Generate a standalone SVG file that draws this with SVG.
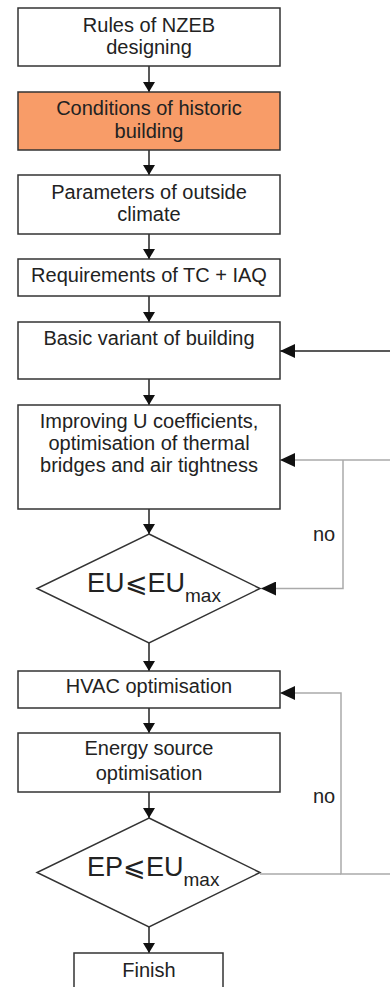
<svg xmlns="http://www.w3.org/2000/svg" width="390" height="987" viewBox="0 0 390 987">
<defs>
<style>
.box{fill:#fff;stroke:#333;stroke-width:1.5}
.hot{fill:#F89C68;stroke:#333;stroke-width:1.5}
.t{font-family:"Liberation Sans",Arial,sans-serif;font-size:20px;fill:#222;text-anchor:middle}
.big{font-family:"Liberation Sans",Arial,sans-serif;font-size:27px;fill:#222}
.sub{font-size:19px}
.no{font-family:"Liberation Sans",Arial,sans-serif;font-size:20px;fill:#222}
.ln{stroke:#222;stroke-width:1.5;fill:none}
.gl{stroke:#aaa;stroke-width:1.5;fill:none}
</style>
<marker id="ad" viewBox="0 0 10 12" refX="10" refY="6" markerWidth="10" markerHeight="12" markerUnits="userSpaceOnUse" orient="auto">
<path d="M0,0 L10,6 L0,12 Z" fill="#111"/>
</marker>
<marker id="as" viewBox="0 0 15 14" refX="15" refY="7" markerWidth="15" markerHeight="14" markerUnits="userSpaceOnUse" orient="auto">
<path d="M0,0 L15,7 L0,14 Z" fill="#111"/>
</marker>
</defs>
<rect width="390" height="987" fill="#fff"/>
<g id="connectors">
<line class="ln" x1="149" y1="66" x2="149" y2="92" marker-end="url(#ad)"/>
<line class="ln" x1="149" y1="150" x2="149" y2="175" marker-end="url(#ad)"/>
<line class="ln" x1="149" y1="234" x2="149" y2="259" marker-end="url(#ad)"/>
<line class="ln" x1="149" y1="296" x2="149" y2="322" marker-end="url(#ad)"/>
<line class="ln" x1="149" y1="379" x2="149" y2="405" marker-end="url(#ad)"/>
<line class="ln" x1="149" y1="509" x2="149" y2="534" marker-end="url(#ad)"/>
<line class="ln" x1="149" y1="643" x2="149" y2="671" marker-end="url(#ad)"/>
<line class="ln" x1="149" y1="708" x2="149" y2="733" marker-end="url(#ad)"/>
<line class="ln" x1="149" y1="792" x2="149" y2="818" marker-end="url(#ad)"/>
<line class="ln" x1="149" y1="927" x2="149" y2="953" marker-end="url(#ad)"/>
<line class="ln" x1="390" y1="351" x2="280" y2="351" stroke="#444" marker-end="url(#as)"/>
<line class="gl" x1="390" y1="460" x2="280" y2="460" marker-end="url(#as)"/>
<polyline class="gl" points="343,460 343,588.5 261,588.5" marker-end="url(#as)"/>
<polyline class="gl" points="390,874 341,874 341,693 280,693" marker-end="url(#as)"/>
<line class="gl" x1="260" y1="874" x2="341" y2="874"/>
<text class="no" x="313" y="541">no</text>
<text class="no" x="313" y="803">no</text>
</g>
<g id="n1"><rect class="box" x="18" y="8" width="262" height="58"/><text class="t" x="149" y="32">Rules of NZEB</text><text class="t" x="149" y="54">designing</text></g>
<g id="n2"><rect class="hot" x="18" y="92" width="262" height="58"/><text class="t" x="149" y="115">Conditions of historic</text><text class="t" x="149" y="138">building</text></g>
<g id="n3"><rect class="box" x="18" y="175" width="262" height="59"/><text class="t" x="149" y="199">Parameters of outside</text><text class="t" x="149" y="221">climate</text></g>
<g id="n4"><rect class="box" x="18" y="259" width="262" height="37"/><text class="t" x="149" y="282">Requirements of TC + IAQ</text></g>
<g id="n5"><rect class="box" x="18" y="322" width="262" height="57"/><text class="t" x="149" y="345">Basic variant of building</text></g>
<g id="n6"><rect class="box" x="18" y="405" width="262" height="104"/><text class="t" x="149" y="428">Improving U coefficients,</text><text class="t" x="149" y="450">optimisation of thermal</text><text class="t" x="149" y="472">bridges and air tightness</text></g>
<g id="d1"><polygon class="box" points="149,534 260,588.5 149,643 37,588.5"/><text class="big" x="87" y="592">EU⩽EU<tspan class="sub" dy="10">max</tspan></text></g>
<g id="n7"><rect class="box" x="18" y="671" width="262" height="37"/><text class="t" x="149" y="693">HVAC optimisation</text></g>
<g id="n8"><rect class="box" x="18" y="733" width="262" height="59"/><text class="t" x="149" y="755">Energy source</text><text class="t" x="149" y="780">optimisation</text></g>
<g id="d2"><polygon class="box" points="149,818 260,872.5 149,927 37,872.5"/><text class="big" x="87" y="876">EP⩽EU<tspan class="sub" dy="10">max</tspan></text></g>
<g id="n9"><rect class="box" x="74" y="953" width="149" height="50"/><text class="t" x="149" y="977">Finish</text></g>
</svg>
